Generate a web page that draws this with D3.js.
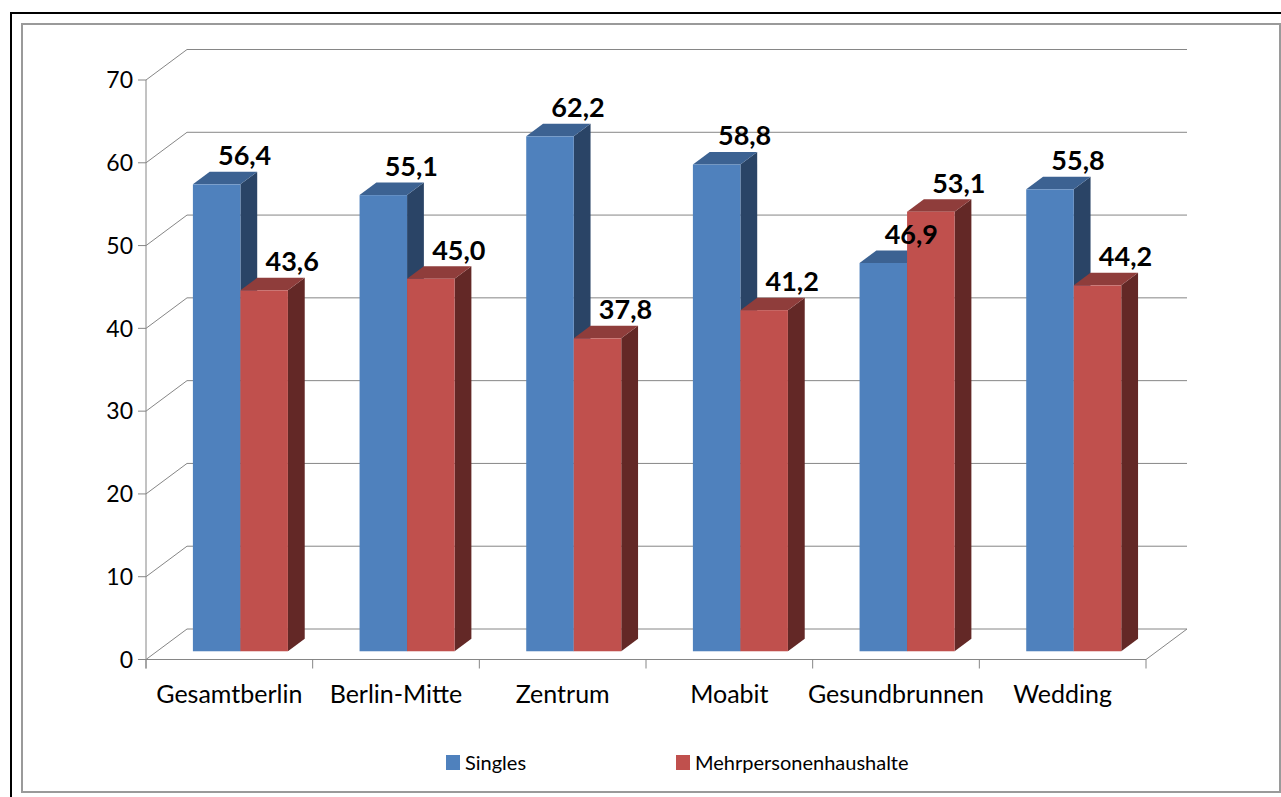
<!DOCTYPE html>
<html>
<head>
<meta charset="utf-8">
<script src="https://cdn.jsdelivr.net/npm/d3@7/dist/d3.min.js"></script>
<style>
  html, body { margin: 0; padding: 0; background: #fff; }
  svg { display: block; }
</style>
</head>
<body>
<svg id="chart" width="1281" height="797"></svg>
<script>
// Haushaltsstruktur: Anteil Singles vs. Mehrpersonenhaushalte (%)
const categories = ["Gesamtberlin", "Berlin-Mitte", "Zentrum", "Moabit", "Gesundbrunnen", "Wedding"];
const seriesNames = ["Singles", "Mehrpersonenhaushalte"];
const singles = [56.4, 55.1, 62.2, 58.8, 46.9, 55.8];
const mehrpersonen = [43.6, 45.0, 37.8, 41.2, 53.1, 44.2];
const yTicks = [0, 10, 20, 30, 40, 50, 60, 70];

const seriesValues = [singles, mehrpersonen];
const palette = {
  Singles: { front: "#4f81bd", top: "#3c6292", side: "#2a4466" },
  Mehrpersonenhaushalte: { front: "#c0504d", top: "#8f3d3b", side: "#632826" }
};

const svg = d3.select("#chart");
const fmt = d3.formatLocale({ decimal: ",", thousands: ".", grouping: [3], currency: ["", "€"] }).format(".1f");
const font = "Lato, 'Open Sans', sans-serif";

// Frames round the chart area
svg.append("rect").attr("x", 22).attr("y", 24).attr("width", 1258).attr("height", 768)
  .attr("fill", "none").attr("stroke", "#9a9a9a").attr("stroke-width", 2);
svg.append("path").attr("d", "M11,797 L11,13 L1281,13")
  .attr("fill", "none").attr("stroke", "#000").attr("stroke-width", 2);

// Oblique 3D box: front plane plus a depth vector
const left = 146, right = 1146;
const depth = { x: 41, y: -30.5 };
const y = d3.scaleLinear().domain([0, 70]).range([659.5, 80]);
const x = d3.scaleBand().domain(categories).range([left, right]);
const xs = d3.scaleBand().domain(seriesNames).range([0, x.bandwidth()]).paddingInner(0).paddingOuter(0.754);
const P = (px, v, t) => [px + t * depth.x, y(v) + t * depth.y];
const gridColor = "#868686";

const grid = svg.append("g").attr("fill", "none").attr("stroke", gridColor).attr("stroke-width", 1);
yTicks.forEach(v => {
  const a = P(left, v, 0), b = P(left, v, 1), c = P(right, v, 1);
  grid.append("path").attr("d", `M${a}L${b}L${c}`);
});
// floor edges
{
  const a = P(left, 0, 0), b = P(right, 0, 0), c = P(right, 0, 1);
  grid.append("path").attr("d", `M${a}L${b}L${c}`);
}

// Value axis
const axis = svg.append("g");
axis.append("line").attr("x1", left).attr("x2", left).attr("y1", y(70)).attr("y2", y(0) + 9)
  .attr("stroke", gridColor);
yTicks.forEach(v => {
  axis.append("line").attr("x1", left - 8).attr("x2", left).attr("y1", y(v)).attr("y2", y(v))
    .attr("stroke", gridColor);
  axis.append("text").attr("x", 133).attr("y", y(v)).attr("dy", "0.36em")
    .attr("text-anchor", "end").attr("font-family", font)
    .attr("font-size", 23).attr("fill", "#000").text(v);
});

// Category axis ticks and labels
const bounds = categories.map(c => x(c)).concat([right]);
bounds.forEach(bx => {
  axis.append("line").attr("x1", bx).attr("x2", bx).attr("y1", y(0)).attr("y2", y(0) + 9)
    .attr("stroke", gridColor);
});
categories.forEach(c => {
  axis.append("text").attr("x", x(c) + x.bandwidth() / 2).attr("y", 703)
    .attr("text-anchor", "middle").attr("font-family", font)
    .attr("font-size", 25).attr("fill", "#000").text(c);
});

// Bars (front at depth t0, back at t1)
const t0 = 0.27, t1 = 0.68;
const bars = svg.append("g");
const labels = [];
categories.forEach((c, i) => {
  seriesNames.forEach((s, k) => {
    const v = seriesValues[k][i];
    const xl = x(c) + xs(s), xr = xl + xs.bandwidth();
    const col = palette[s];
    const f0 = P(xl, v, t0), f1 = P(xr, 0, t0);
    const poly = pts => "M" + pts.map(p => p.join(",")).join("L") + "Z";
    bars.append("path").attr("d", poly([P(xr, v, t0), P(xr, v, t1), P(xr, 0, t1), P(xr, 0, t0)]))
      .attr("fill", col.side);
    bars.append("path").attr("d", poly([P(xl, v, t0), P(xr, v, t0), P(xr, v, t1), P(xl, v, t1)]))
      .attr("fill", col.top);
    bars.append("rect").attr("x", f0[0]).attr("y", f0[1])
      .attr("width", f1[0] - f0[0]).attr("height", f1[1] - f0[1]).attr("fill", col.front);
    labels.push({ x: (f0[0] + f1[0]) / 2 + 28, y: f0[1] - 19, text: fmt(v) });
  });
});

svg.append("g").selectAll("text").data(labels).join("text")
  .attr("x", d => d.x).attr("y", d => d.y)
  .attr("text-anchor", "middle").attr("font-family", font)
  .attr("font-weight", "bold").attr("font-size", 27).attr("fill", "#000")
  .text(d => d.text);

// Legend
const legendX = [446, 676];
const legend = svg.append("g");
seriesNames.forEach((s, k) => {
  legend.append("rect").attr("x", legendX[k]).attr("y", 755).attr("width", 14).attr("height", 15)
    .attr("fill", palette[s].front);
  legend.append("text").attr("x", legendX[k] + 19).attr("y", 770)
    .attr("font-family", font).attr("font-size", 20).attr("fill", "#000")
    .text(s);
});
</script>
</body>
</html>
